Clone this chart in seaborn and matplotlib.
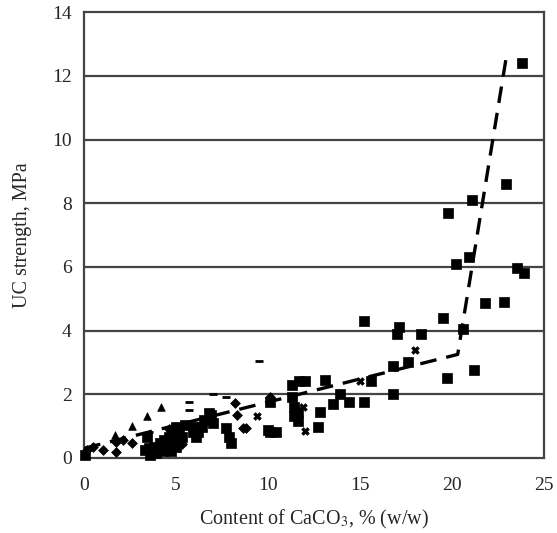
import pandas as pd
import seaborn as sns
import matplotlib.pyplot as plt

sq_x = [23.8, 22.9, 21.1, 19.8, 20.9, 20.2, 23.5, 23.9, 21.8, 22.8, 19.5,
        20.6, 19.7, 21.2, 15.2, 17.1, 17.0, 18.3, 16.8, 17.6, 16.8, 15.2,
        15.6, 14.4, 13.5, 13.9, 13.1, 12.8, 12.7, 12.0, 11.7, 11.3, 11.3,
        11.4, 11.6, 11.4, 11.6, 10.1, 10.4, 10.0, 6.9, 7.0, 6.8, 6.5,
        5.0, 4.9, 4.6, 4.35, 4.1, 3.8, 3.55, 3.3, 3.9, 4.5, 4.8, 5.05,
        5.15, 5.0, 5.9, 6.0, 6.1, 5.5, 6.4, 7.7, 7.85, 8.0, 3.4, 0.05, 10.1,
        4.3, 4.7, 3.6, 5.3, 6.2]
sq_y = [12.4, 8.6, 8.1, 7.7, 6.3, 6.1, 5.95, 5.8, 4.85, 4.9, 4.4,
        4.05, 2.5, 2.75, 4.3, 4.1, 3.9, 3.9, 2.9, 3.0, 2.0, 1.75,
        2.4, 1.75, 1.7, 2.0, 2.45, 1.45, 0.97, 2.4, 2.4, 2.3, 1.9,
        1.6, 1.45, 1.3, 1.15, 0.82, 0.82, 0.88, 1.35, 1.1, 1.4, 1.2,
        0.97, 0.78, 0.66, 0.56, 0.47, 0.35, 0.31, 0.25, 0.15, 0.35, 0.5, 0.56,
        0.78, 0.35, 0.82, 0.97, 0.66, 1.03, 0.97, 0.93, 0.66, 0.47, 0.66, 0.1, 1.76,
        0.2, 0.2, 0.1, 0.65, 0.8]

tri_x = [4.2, 3.4, 2.6, 1.7]
tri_y = [1.6, 1.3, 1.0, 0.72]

dia_x = [10.1, 8.8, 8.3, 8.2, 8.65, 2.6, 2.1, 1.75, 1.0, 0.5, 0.15, 1.75, 4.6, 5.3]
dia_y = [1.9, 0.93, 1.35, 1.72, 0.94, 0.47, 0.56, 0.19, 0.25, 0.35, 0.25, 0.5, 0.9, 0.45]

crs_x = [18.0, 15.0, 12.0, 11.9, 9.4]
crs_y = [3.4, 2.4, 0.85, 1.6, 1.3]

dash_x = [9.5, 5.7, 5.7, 7.0, 7.7, 3.5]
dash_y = [3.05, 1.75, 1.5, 2.0, 1.9, 0.82]

# fitted bilinear trend
fit_x = [0.0, 20.3, 23.0]
fit_y = [0.3, 3.25, 12.8]

df = pd.concat([
    pd.DataFrame({"x": sq_x, "y": sq_y, "kind": "square"}),
    pd.DataFrame({"x": tri_x, "y": tri_y, "kind": "triangle"}),
    pd.DataFrame({"x": dia_x, "y": dia_y, "kind": "diamond"}),
    pd.DataFrame({"x": crs_x, "y": crs_y, "kind": "cross"}),
    pd.DataFrame({"x": dash_x, "y": dash_y, "kind": "dash"}),
])
fit = pd.DataFrame({"x": fit_x, "y": fit_y})

sns.set_style("white")
plt.rcParams["font.family"] = ["Liberation Serif", "DejaVu Serif"]
plt.rcParams["mathtext.fontset"] = "stix"

fig = plt.figure(figsize=(5.57, 5.33), dpi=100)
ax = fig.add_axes([0.151, 0.141, 0.826, 0.836])

for y in range(2, 14, 2):
    ax.axhline(y, color="#444444", lw=1.6, zorder=0)

markers = {"square": "s", "triangle": "^", "diamond": "D", "cross": "X", "dash": "_"}
sizes = {"square": 50, "triangle": 30, "diamond": 25, "cross": 30, "dash": 40}
for kind, grp in df.groupby("kind"):
    sns.scatterplot(data=grp, x="x", y="y", marker=markers[kind], s=sizes[kind],
                    color="black", edgecolor="black",
                    linewidth=2 if kind == "dash" else 0.5, ax=ax, zorder=3,
                    clip_on=False, legend=False)

sns.lineplot(data=fit, x="x", y="y", color="black", lw=2.4, ax=ax,
             dashes=False, zorder=4)
ax.lines[-1].set_dashes([5, 3])

ax.set_xlim(0, 25)
ax.set_ylim(0, 14)
ax.set_xticks(range(0, 26, 5))
ax.set_yticks(range(0, 15, 2))
ax.tick_params(axis="x", direction="inout", length=9, width=2, color="black",
               labelsize=14, pad=9)
ax.tick_params(axis="y", direction="in", length=4, width=1, color="#444444",
               labelsize=14, pad=9)
for s in ax.spines.values():
    s.set_color("#444444")
    s.set_linewidth(1.6)

ax.set_xlabel("Content of CaCO$_3$, % (w/w)", fontsize=14.5, labelpad=10)
ax.set_ylabel("UC strength, MPa", fontsize=14.5, labelpad=14)

plt.savefig("out.png", dpi=100)
